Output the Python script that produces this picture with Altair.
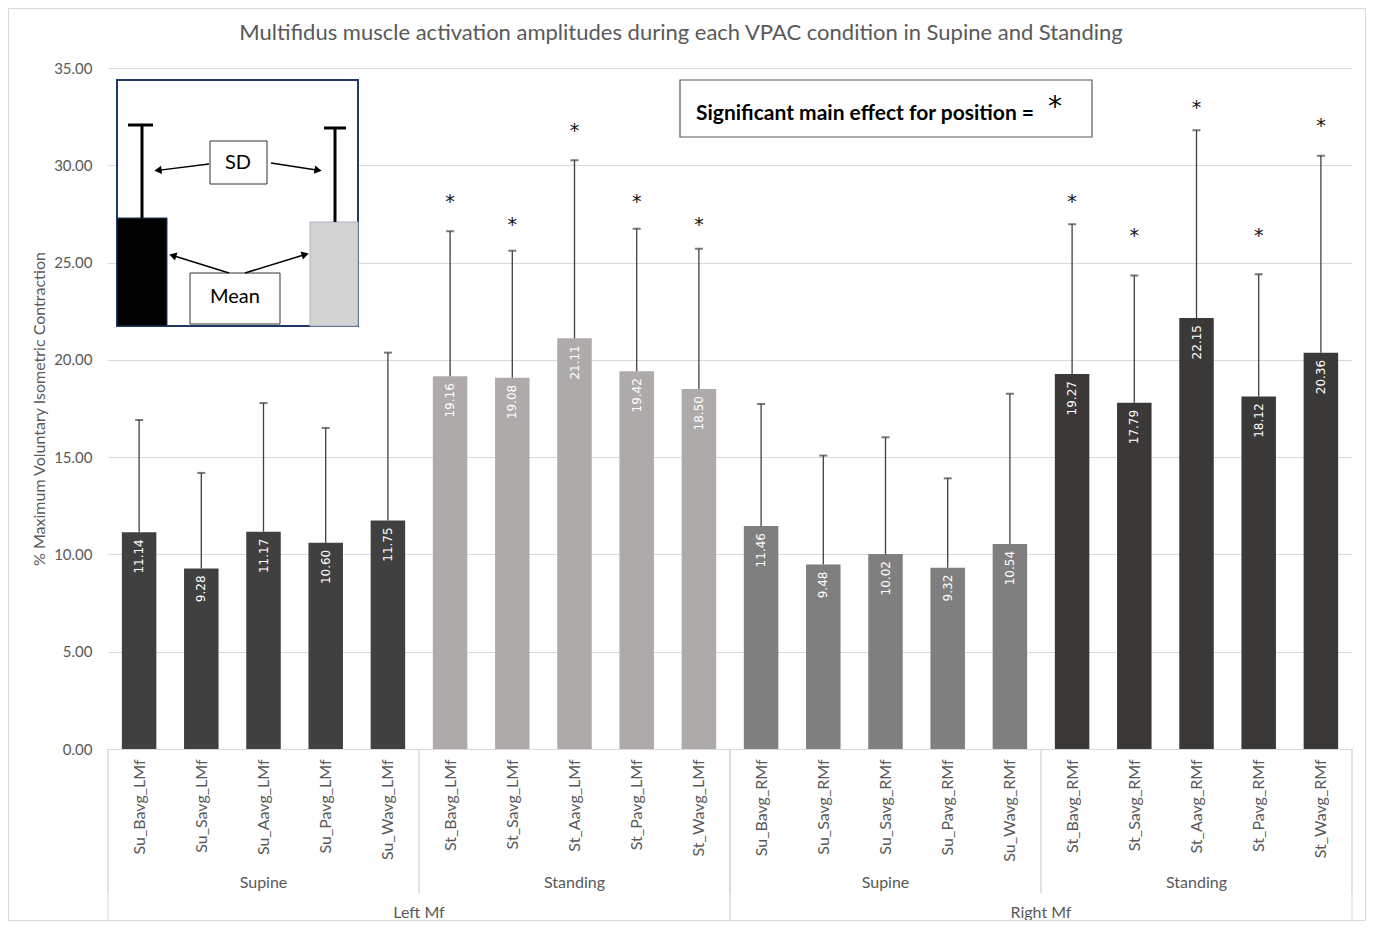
import json
import math
import altair as alt
import pandas as pd

# ---------------- data ----------------
categories = [
    "Su_Bavg_LMf", "Su_Savg_LMf", "Su_Aavg_LMf", "Su_Pavg_LMf", "Su_Wavg_LMf",
    "St_Bavg_LMf", "St_Savg_LMf", "St_Aavg_LMf", "St_Pavg_LMf", "St_Wavg_LMf",
    "Su_Bavg_RMf", "Su_Savg_RMf", "Su_Savg_RMf", "Su_Pavg_RMf", "Su_Wavg_RMf",
    "St_Bavg_RMf", "St_Savg_RMf", "St_Aavg_RMf", "St_Pavg_RMf", "St_Wavg_RMf",
]
means = [11.14, 9.28, 11.17, 10.60, 11.75,
         19.16, 19.08, 21.11, 19.42, 18.50,
         11.46, 9.48, 10.02, 9.32, 10.54,
         19.27, 17.79, 22.15, 18.12, 20.36]
sds = [5.77, 4.91, 6.61, 5.90, 8.62,
       7.45, 6.53, 9.15, 7.32, 7.21,
       6.27, 5.60, 6.00, 4.59, 7.72,
       7.70, 6.54, 9.65, 6.28, 10.13]
# level at which the significance asterisk is drawn (None = not significant)
star_levels = [None, None, None, None, None,
               28.39, 27.19, 32.03, 28.39, 27.19,
               None, None, None, None, None,
               28.39, 26.62, 33.19, 26.62, 32.28]
bar_groups = ["Left Supine", "Left Standing", "Right Supine", "Right Standing"]
bar_colors = ["#404040", "#aeaaaa", "#7f7f7f", "#3b3838"]
position_groups = ["Supine", "Standing", "Supine", "Standing"]
position_counts = [5, 5, 5, 5]
side_groups = ["Left Mf", "Right Mf"]
side_counts = [10, 10]
y_ticks = [0, 5, 10, 15, 20, 25, 30, 35]

title_text = "Multifidus muscle activation amplitudes during each VPAC condition in Supine and Standing"
y_title = "% Maximum Voluntary Isometric Contraction"
sig_text = "Significant main effect for position ="

# ---------------- layout ----------------
W, H = 1244, 681
PAD_L, PAD_T, PAD_R, PAD_B = 100, 60, 14, 172
OX, OY = 8 + PAD_L, 8 + PAD_T  # page position of plot origin
FONT = "Lato"
GREY_TXT = "#595959"
N = len(categories)

df = pd.DataFrame({
    "idx": list(range(N)),
    "name": categories,
    "mean": means,
    "sd": sds,
    "star": star_levels,
    "group": [bar_groups[i * len(bar_groups) // N] for i in range(N)],
})


def cum(counts):
    s, out = 0, []
    for c in counts:
        out.append((s, s + c))
        s += c
    return out


pos_df = pd.DataFrame({
    "label": position_groups,
    "start": [a for a, b in cum(position_counts)],
    "end": [b for a, b in cum(position_counts)],
})
side_df = pd.DataFrame({
    "label": side_groups,
    "start": [a for a, b in cum(side_counts)],
    "end": [b for a, b in cum(side_counts)],
})

xscale = alt.Scale(domain=[0, N], nice=False, zero=False, padding=0)
yscale = alt.Scale(domain=[0, 35], nice=False)
names_js = json.dumps(categories)

base = alt.Chart(df).transform_calculate(
    c="datum.idx + 0.5", top="datum.mean + datum.sd"
)

bars = base.mark_bar(width=34.5).encode(
    x=alt.X("c:Q", scale=xscale, axis=alt.Axis(
        values=[i + 0.5 for i in range(N)],
        labelExpr=f"{names_js}[floor(datum.value)]",
        labelAngle=270, labelAlign="right", labelBaseline="middle",
        ticks=False, grid=False, domainColor="#d9d9d9", domainWidth=1,
        labelColor=GREY_TXT, labelFontSize=16, labelFont=FONT,
        labelPadding=10, labelOverlap=False, title=None)),
    y=alt.Y("mean:Q", scale=yscale, axis=alt.Axis(
        values=y_ticks, format=".2f", grid=True, gridColor="#d9d9d9",
        domain=False, ticks=False, labelPadding=16, labelFontSize=15,
        labelFont=FONT, labelColor=GREY_TXT, title=y_title,
        titleFont=FONT, titleFontSize=16, titleFontWeight="normal",
        titleColor=GREY_TXT, titlePadding=6)),
    color=alt.Color("group:N", scale=alt.Scale(domain=bar_groups, range=bar_colors), legend=None),
)

err = base.mark_rule(color="#404040", strokeWidth=1.3).encode(
    x=alt.X("c:Q", scale=xscale), y=alt.Y("mean:Q", scale=yscale), y2="top:Q")
caps = base.mark_tick(orient="horizontal", size=8, thickness=2, color="#404040").encode(
    x=alt.X("c:Q", scale=xscale), y=alt.Y("top:Q", scale=yscale))
vals = base.mark_text(angle=270, align="right", baseline="middle", dx=-7,
                      color="white", fontSize=12, font="DejaVu Sans").encode(
    x=alt.X("c:Q", scale=xscale), y=alt.Y("mean:Q", scale=yscale),
    text=alt.Text("mean:Q", format=".2f"))
stars = base.transform_filter("isValid(datum.star)").mark_text(
    text="*", fontSize=19, font="DejaVu Sans", baseline="alphabetic", dy=11, color="#111111").encode(
    x=alt.X("c:Q", scale=xscale), y=alt.Y("star:Q", scale=yscale))

# group separators and labels (category axis hierarchy)
pos_base = alt.Chart(pos_df).transform_calculate(mid="(datum.start + datum.end) / 2")
side_base = alt.Chart(side_df).transform_calculate(mid="(datum.start + datum.end) / 2")
SEP = "#d9d9d9"
pos_sep_a = pos_base.mark_rule(color=SEP).encode(
    x=alt.X("start:Q", scale=xscale), y=alt.value(H), y2=alt.value(H + 144))
pos_sep_b = pos_base.mark_rule(color=SEP).encode(
    x=alt.X("end:Q", scale=xscale), y=alt.value(H), y2=alt.value(H + 144))
side_sep_a = side_base.mark_rule(color=SEP).encode(
    x=alt.X("start:Q", scale=xscale), y=alt.value(H), y2=alt.value(H + PAD_B))
side_sep_b = side_base.mark_rule(color=SEP).encode(
    x=alt.X("end:Q", scale=xscale), y=alt.value(H), y2=alt.value(H + PAD_B))
pos_lbl = pos_base.mark_text(font=FONT, fontSize=16, color=GREY_TXT, baseline="middle").encode(
    x=alt.X("mid:Q", scale=xscale), y=alt.value(883 - OY), text="label:N")
side_lbl = side_base.mark_text(font=FONT, fontSize=16, color=GREY_TXT, baseline="middle").encode(
    x=alt.X("mid:Q", scale=xscale), y=alt.value(913 - OY), text="label:N")

# ---------------- annotation helpers (page pixel coords) ----------------
one = pd.DataFrame({"k": [0]})


def P(x, y):
    return x - OX, y - OY


def rect(x1, y1, x2, y2, fill="transparent", stroke=None, sw=1):
    a, b = P(x1, y1)
    c, d = P(x2, y2)
    kw = dict(fill=fill)
    if stroke:
        kw.update(stroke=stroke, strokeWidth=sw)
    return alt.Chart(one).mark_rect(**kw).encode(
        x=alt.value(a), y=alt.value(b), x2=alt.value(c), y2=alt.value(d))


def line(x1, y1, x2, y2, color="black", sw=1.5):
    a, b = P(x1, y1)
    c, d = P(x2, y2)
    return alt.Chart(one).mark_rule(color=color, strokeWidth=sw).encode(
        x=alt.value(a), y=alt.value(b), x2=alt.value(c), y2=alt.value(d))


def text(x, y, s, size, weight="normal", color="black", align="center", baseline="middle", font=FONT):
    a, b = P(x, y)
    return alt.Chart(one).mark_text(text=s, fontSize=size, fontWeight=weight, color=color,
                                    align=align, baseline=baseline, font=font).encode(
        x=alt.value(a), y=alt.value(b))


def arrow(x1, y1, x2, y2, size=70):
    # line from (x1,y1) to tip (x2,y2) with a triangular head
    dx, dy = x2 - x1, y2 - y1
    L = math.hypot(dx, dy)
    ux, uy = dx / L, dy / L
    cx, cy = x2 - ux * 5, y2 - uy * 5
    ang = (math.degrees(math.atan2(dy, dx)) + 90) % 360  # triangle-up rotated to direction
    a, b = P(cx, cy)
    head = alt.Chart(one).mark_point(shape="triangle-up", filled=True, size=size, angle=ang,
                                     color="black", opacity=1).encode(
        x=alt.value(a), y=alt.value(b))
    return [line(x1, y1, cx, cy, sw=1.5), head]


anno = []
# chart title
anno.append(text(681, 33, title_text, 22, color=GREY_TXT))
# chart border
anno.append(rect(8.5, 8.5, 8 + PAD_L + W + PAD_R - 0.5, 8 + PAD_T + H + PAD_B - 0.5, stroke="#d9d9d9"))
# significance box
anno.append(rect(680, 80, 1092, 137, fill="white", stroke="#595959", sw=1.2))
anno.append(text(696, 120, sig_text, 21, weight="bold", color="black", align="left", baseline="alphabetic"))
anno.append(text(1055, 116, "*", 28, color="black", baseline="alphabetic", font="DejaVu Sans"))
# inset legend
anno.append(rect(117, 80, 358, 326, fill="white", stroke="#1f3864", sw=2))
anno.append(rect(117, 218, 167, 326, fill="black", stroke="#1f3864", sw=1))
anno.append(rect(310, 222, 358, 326, fill="#d3d3d3", stroke="#a9b4c8", sw=1))
anno.append(line(142, 218, 142, 125, sw=3))
anno.append(line(128, 125, 153, 125, sw=3))
anno.append(line(335, 222, 335, 128, sw=3))
anno.append(line(324, 128, 346, 128, sw=3))
anno.append(rect(210, 141, 267, 184, fill="white", stroke="#333333", sw=1))
anno.append(text(238, 163, "SD", 20))
anno.append(rect(190, 273, 280, 324, fill="white", stroke="#333333", sw=1))
anno.append(text(235, 297, "Mean", 20))
anno += arrow(209, 164, 153, 171)
anno += arrow(271, 163, 323, 171)
anno += arrow(229, 273, 168, 254)
anno += arrow(245, 273, 310, 253)

chart = alt.layer(
    bars, err, caps, vals, stars,
    pos_sep_a, pos_sep_b, side_sep_a, side_sep_b, pos_lbl, side_lbl,
    *anno,
).properties(
    width=W, height=H,
    padding={"left": PAD_L, "top": PAD_T, "right": PAD_R, "bottom": PAD_B},
    autosize=alt.AutoSizeParams(type="none"),
    background="white",
).configure_view(stroke=None)

chart.save("out.html", embed_options={"renderer": "svg", "actions": False})
